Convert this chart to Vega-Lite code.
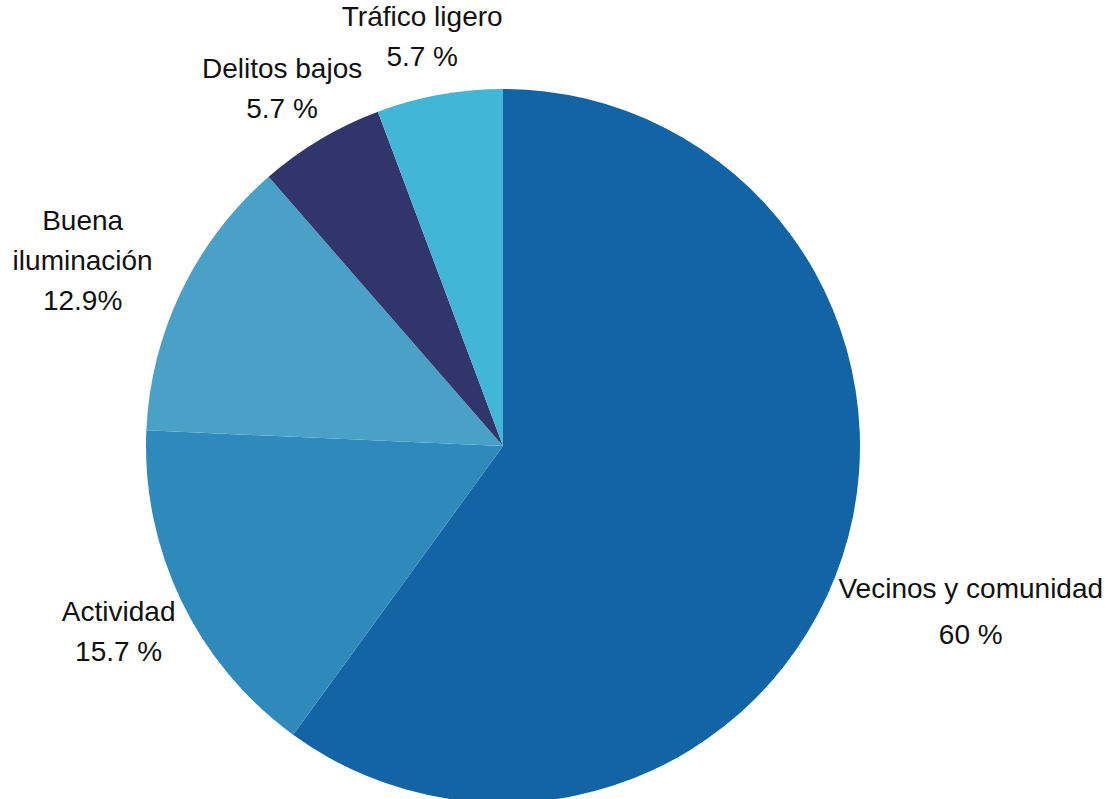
{
  "$schema": "https://vega.github.io/schema/vega-lite/v6.json",
  "width": 1006,
  "height": 706,
  "autosize": {"type": "none"},
  "padding": {"left": 0, "top": 93, "right": 103, "bottom": 0},
  "background": "white",
  "view": {"stroke": null},
  "data": {
    "values": [
      {"idx": 1, "categoria": "Vecinos y comunidad", "valor": 60, "etiqueta": "Vecinos y comunidad\n60 %"},
      {"idx": 2, "categoria": "Actividad", "valor": 15.7, "etiqueta": "Actividad\n15.7 %"},
      {"idx": 3, "categoria": "Buena iluminación", "valor": 12.9, "etiqueta": "Buena\niluminación\n12.9%"},
      {"idx": 4, "categoria": "Delitos bajos", "valor": 5.7, "etiqueta": "Delitos bajos\n5.7 %"},
      {"idx": 5, "categoria": "Tráfico ligero", "valor": 5.7, "etiqueta": "Tráfico ligero\n5.7 %"}
    ]
  },
  "encoding": {
    "theta": {"field": "valor", "type": "quantitative", "stack": true},
    "order": {"field": "idx", "type": "quantitative", "sort": "ascending"}
  },
  "layer": [
    {
      "mark": {"type": "arc", "outerRadius": 357, "stroke": null},
      "encoding": {
        "color": {
          "field": "categoria",
          "type": "nominal",
          "legend": null,
          "scale": {
            "domain": ["Vecinos y comunidad", "Actividad", "Buena iluminación", "Delitos bajos", "Tráfico ligero"],
            "range": ["#1264a4", "#2e8aba", "#4aa1c8", "#31356c", "#42b6d6"]
          }
        }
      }
    },
    {
      "mark": {"type": "text", "radius": 420, "dx": -6, "dy": -15, "font": "Liberation Sans", "fontSize": 28, "lineHeight": 40, "lineBreak": "\n", "align": "center", "baseline": "middle", "color": "#111111"},
      "encoding": {"text": {"condition": {"test": "datum.idx == 1 || datum.idx == 3", "value": ""}, "field": "etiqueta"}}
    },
    {
      "mark": {"type": "text", "radius": 450, "dx": -15, "dy": -29, "font": "Liberation Sans", "fontSize": 28, "lineHeight": 40, "lineBreak": "\n", "align": "center", "baseline": "middle", "color": "#111111"},
      "encoding": {"text": {"condition": {"test": "datum.idx != 3", "value": ""}, "field": "etiqueta"}}
    },
    {
      "mark": {"type": "text", "radius": 495, "dx": -3, "dy": -9, "font": "Liberation Sans", "fontSize": 28, "lineHeight": 46, "lineBreak": "\n", "align": "center", "baseline": "middle", "color": "#111111"},
      "encoding": {"text": {"condition": {"test": "datum.idx != 1", "value": ""}, "field": "etiqueta"}}
    }
  ]
}
